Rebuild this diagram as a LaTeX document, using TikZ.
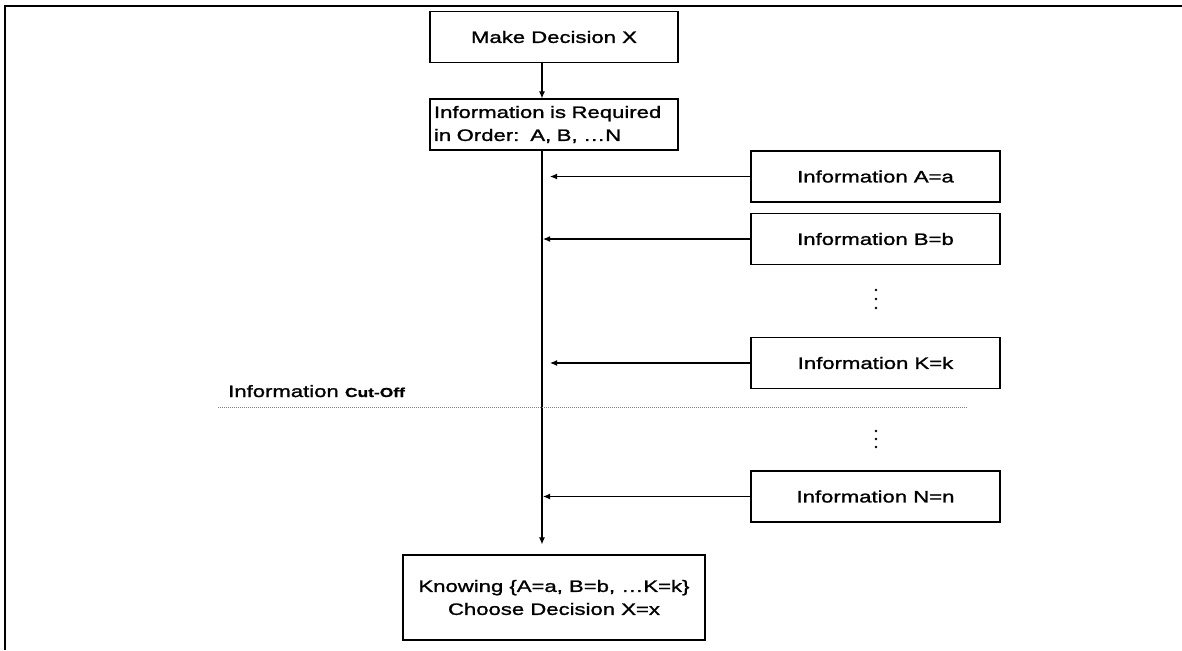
\documentclass[tikz,border=0pt]{standalone}
\usepackage{fontspec}
\setmainfont{Liberation Sans}[FakeStretch=1.34, FakeBold=1.3]
\usetikzlibrary{arrows.meta}
\begin{document}
\begin{tikzpicture}[x=1pt,y=-1pt,
  box/.style={draw, line width=1.2pt, minimum width=248pt, minimum height=51pt,
    inner sep=0pt, font=\fontsize{16.5}{23}\selectfont},
  flow/.style={line width=1.1pt, -{Latex[length=7pt,width=6pt]}},
  cutline/.style={gray, line width=0.9pt, dash pattern=on 1pt off 1pt},
]
\useasboundingbox (0,0) rectangle (1182,650);
% page frame (top and left edges)
\draw[line width=1.5pt] (5,650) -- (5,6) -- (1182,6);

% main column
\coordinate (spine) at (542,0);
\node[box] (decide) at (554,37) {Make Decision X};
\node[box, text width=240pt, align=left] (req) at (554,124.5)
  {Information is Required\\in Order:\ \ A, B, …N};
\node[box, minimum width=302pt, minimum height=85pt, align=center] (know) at (554,597.5)
  {Knowing \{A=a, B=b, …K=k\}\\Choose Decision X=x};

% incoming information
\node[box, minimum width=249pt] (infoA) at (875.5,176.5) {Information A=a};
\node[box, minimum width=249pt] (infoB) at (875.5,239) {Information B=b};
\node[box, minimum width=249pt] (infoK) at (875.5,363) {Information K=k};
\node[box, minimum width=249pt] (infoN) at (875.5,496.5) {Information N=n};

% connectors
\draw[flow] (decide.south -| spine) -- (req.north -| spine);
\draw[flow, shorten >=10pt] (req.south -| spine) -- (know.north -| spine);
\draw[flow, shorten >=8pt] (infoA.west) -- (infoA.west -| spine);
\draw[flow, shorten >=1pt] (infoB.west) -- (infoB.west -| spine);
\draw[flow, shorten >=8pt] (infoK.west) -- (infoK.west -| spine);
\draw[flow, shorten >=1pt] (infoN.west) -- (infoN.west -| spine);

% vertical ellipses between the information boxes
\foreach \y in {290,299,308,431,439,447}
  \fill (876,\y) circle (1.3pt);

% cut-off marker
\node[anchor=base west, inner sep=0pt] (cut) at (228,397)
  {\fontsize{16.5}{16}\selectfont Information \fontsize{13}{13}\selectfont\bfseries Cut-Off};
\coordinate (cutL) at (218,407);
\coordinate (cutR) at (968,407);
\draw[cutline] (cutL) -- (cutR);
\end{tikzpicture}
\end{document}
